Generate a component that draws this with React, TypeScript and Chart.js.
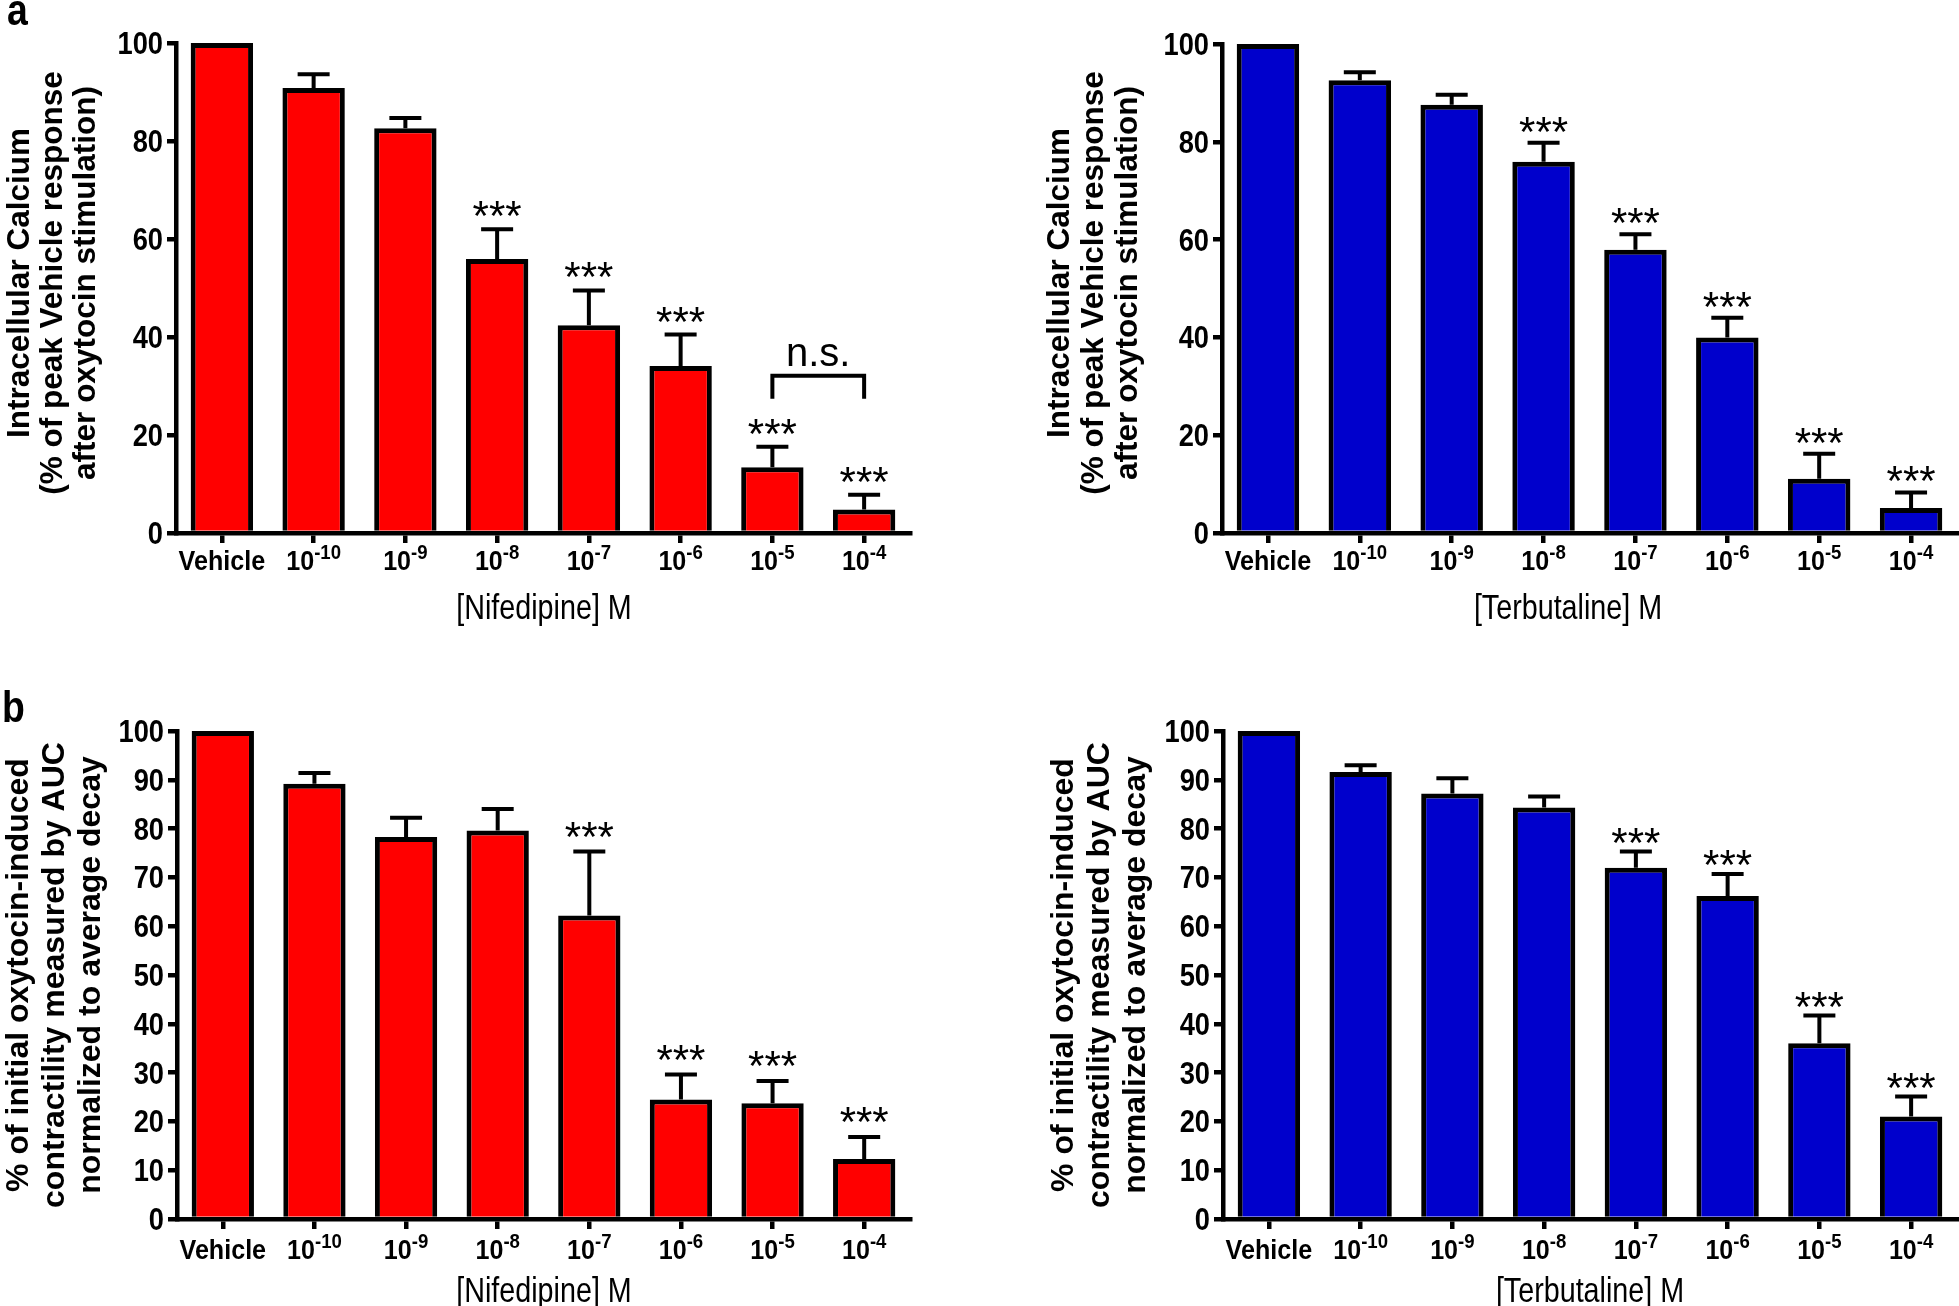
import React, { useEffect, useRef } from 'react';
import { Chart, registerables } from 'chart.js';

Chart.register(...registerables);

const FONT = "'Liberation Sans', Arial, Helvetica, sans-serif";

// ---------- data ----------
const categories = ['Vehicle', '10^-10', '10^-9', '10^-8', '10^-7', '10^-6', '10^-5', '10^-4'];

const nifedipineCalcium = [100, 90.8, 82.6, 55.9, 42.4, 34.1, 13.4, 4.8];
const nifedipineCalciumSem = [0, 2.8, 2.1, 6.1, 7.1, 6.4, 4.2, 3.0];
const nifedipineCalciumSig = ['', '', '', '***', '***', '***', '***', '***'];

const terbutalineCalcium = [100, 92.6, 87.6, 75.9, 57.9, 40.0, 11.1, 5.1];
const terbutalineCalciumSem = [0, 1.6, 2.0, 3.9, 3.2, 4.0, 5.1, 3.2];
const terbutalineCalciumSig = ['', '', '', '***', '***', '***', '***', '***'];

const nifedipineContractility = [100, 89.2, 78.3, 79.6, 62.2, 24.5, 23.7, 12.3];
const nifedipineContractilitySem = [0, 2.2, 3.9, 4.4, 13.1, 5.1, 4.6, 4.5];
const nifedipineContractilitySig = ['', '', '', '', '***', '***', '***', '***'];

const terbutalineContractility = [100, 91.6, 87.2, 84.3, 72.0, 66.2, 36.0, 21.0];
const terbutalineContractilitySem = [0, 1.4, 3.1, 2.3, 3.3, 4.5, 5.7, 4.1];
const terbutalineContractilitySig = ['', '', '', '', '***', '***', '***', '***'];

const calciumTicks = [0, 20, 40, 60, 80, 100];
const contractilityTicks = [0, 10, 20, 30, 40, 50, 60, 70, 80, 90, 100];

const calciumYTitle = ['Intracellular Calcium', '(% of peak Vehicle response', 'after oxytocin stimulation)'];
const contractilityYTitle = ['% of initial oxytocin-induced', 'contractility measured by AUC', 'normalized to average decay'];
const nifedipineXTitle = '[Nifedipine] M';
const terbutalineXTitle = '[Terbutaline] M';

// n.s. comparison between 10^-5 and 10^-4 (nifedipine, calcium)
const nsComparison = { from: 6, to: 7, level: 32.1, legEnd: 27.4, labelAt: 36.3, label: 'n.s.' };

// ---------- layout ----------
const RED = '#FF0000';
const BLUE = '#0000CC';

const panels = [
  {
    id: 'aL', values: nifedipineCalcium, sem: nifedipineCalciumSem, sig: nifedipineCalciumSig,
    color: RED, yTicks: calciumTicks, yTitle: calciumYTitle, xTitle: nifedipineXTitle, letter: 'a', bracket: nsComparison,
    L: { canvas: { x: 0, y: 0, w: 990, h: 665 }, area: { l: 176, t: 43, r: 910, b: 533 }, titleX: [18, 51, 84], titleY: 283,
      titleSize: 31.5, tickDy: 27, xTitleX: 544, xTitleDy: 73, starGap: 20, letterPos: { x: 7, y: 25 } },
  },
  {
    id: 'aR', values: terbutalineCalcium, sem: terbutalineCalciumSem, sig: terbutalineCalciumSig,
    color: BLUE, yTicks: calciumTicks, yTitle: calciumYTitle, xTitle: terbutalineXTitle, letter: '', bracket: null,
    L: { canvas: { x: 1000, y: 0, w: 959, h: 665 }, area: { l: 1222, t: 44, r: 1957, b: 533 }, titleX: [1058, 1092, 1126], titleY: 283,
      titleSize: 31.5, tickDy: 27, xTitleX: 1568, xTitleDy: 73, starGap: 18, letterPos: { x: 0, y: 0 } },
  },
  {
    id: 'bL', values: nifedipineContractility, sem: nifedipineContractilitySem, sig: nifedipineContractilitySig,
    color: RED, yTicks: contractilityTicks, yTitle: contractilityYTitle, xTitle: nifedipineXTitle, letter: 'b', bracket: null,
    L: { canvas: { x: 0, y: 668, w: 990, h: 638 }, area: { l: 177, t: 731, r: 910, b: 1219 }, titleX: [17, 53, 89], titleY: 975,
      titleSize: 32, tickDy: 30, xTitleX: 544, xTitleDy: 70, starGap: 22, letterPos: { x: 2, y: 722 } },
  },
  {
    id: 'bR', values: terbutalineContractility, sem: terbutalineContractilitySem, sig: terbutalineContractilitySig,
    color: BLUE, yTicks: contractilityTicks, yTitle: contractilityYTitle, xTitle: terbutalineXTitle, letter: '', bracket: null,
    L: { canvas: { x: 1000, y: 668, w: 959, h: 638 }, area: { l: 1223, t: 731, r: 1957, b: 1219 }, titleX: [1062, 1098, 1134], titleY: 975,
      titleSize: 32, tickDy: 30, xTitleX: 1590, xTitleDy: 70, starGap: 16, letterPos: { x: 0, y: 0 } },
  },
];

const X_AXIS_H = 40;

function fillScaled(ctx: CanvasRenderingContext2D, text: string, x: number, y: number, sx: number, align: CanvasTextAlign) {
  ctx.save();
  ctx.translate(x, y);
  ctx.scale(sx, 1);
  ctx.textAlign = align;
  ctx.textBaseline = 'alphabetic';
  ctx.fillText(text, 0, 0);
  ctx.restore();
}

function drawBoxCentered(ctx: CanvasRenderingContext2D, text: string, x: number, cy: number, font: string) {
  ctx.font = font;
  const m = ctx.measureText(text);
  const asc = m.actualBoundingBoxAscent;
  const desc = m.actualBoundingBoxDescent;
  ctx.textAlign = 'center';
  ctx.textBaseline = 'alphabetic';
  ctx.fillText(text, x, cy + (asc - desc) / 2);
}

function makePlugin(spec: any) {
  return {
    id: 'annot_' + spec.id,
    afterDraw(chart: any) {
      const ctx: CanvasRenderingContext2D = chart.ctx;
      const xs = chart.scales.x;
      const ys = chart.scales.y;
      const L = spec.L;
      const c = L.canvas;
      const a = chart.chartArea;
      ctx.save();
      ctx.strokeStyle = '#000';
      ctx.fillStyle = '#000';
      ctx.lineWidth = 4;
      ctx.lineCap = 'butt';

      // error bars + significance
      spec.values.forEach((v: number, i: number) => {
        const e = spec.sem[i];
        const x = xs.getPixelForValue(i);
        const y1 = ys.getPixelForValue(v + e);
        if (e > 0) {
          const y0 = ys.getPixelForValue(v);
          ctx.beginPath();
          ctx.moveTo(x, y0);
          ctx.lineTo(x, y1);
          ctx.moveTo(x - 16, y1);
          ctx.lineTo(x + 16, y1);
          ctx.stroke();
        }
        if (spec.sig[i]) {
          drawBoxCentered(ctx, spec.sig[i], x, y1 - L.starGap, `42px ${FONT}`);
        }
      });

      // bracket
      if (spec.bracket) {
        const b = spec.bracket;
        const x1 = xs.getPixelForValue(b.from);
        const x2 = xs.getPixelForValue(b.to);
        const yl = ys.getPixelForValue(b.level);
        const ye = ys.getPixelForValue(b.legEnd);
        ctx.beginPath();
        ctx.moveTo(x1, ye);
        ctx.lineTo(x1, yl);
        ctx.lineTo(x2, yl);
        ctx.lineTo(x2, ye);
        ctx.stroke();
        drawBoxCentered(ctx, b.label, (x1 + x2) / 2, ys.getPixelForValue(b.labelAt), `40px ${FONT}`);
      }

      // y tick labels (condensed bold)
      const ySize = 31;
      const ySx = 0.88;
      ctx.font = `bold ${ySize}px ${FONT}`;
      spec.yTicks.forEach((t: number) => {
        const y = ys.getPixelForValue(t);
        fillScaled(ctx, String(t), a.left - 13, y + ySize * 0.716 / 2, ySx, 'right');
      });

      // x tick labels with superscripts
      const baseSize = 27;
      const supSize = 20;
      const xSx = 0.93;
      const cy = a.bottom + L.tickDy;
      const baseY = cy + baseSize * 0.716 / 2;
      categories.forEach((lab, i) => {
        const x = xs.getPixelForValue(i);
        if (lab.includes('^')) {
          const [base, exp] = lab.split('^');
          ctx.font = `bold ${baseSize}px ${FONT}`;
          const w1 = ctx.measureText(base).width * xSx;
          ctx.font = `bold ${supSize}px ${FONT}`;
          const w2 = ctx.measureText(exp).width * xSx;
          const start = x - (w1 + w2) / 2;
          ctx.font = `bold ${baseSize}px ${FONT}`;
          fillScaled(ctx, base, start, baseY, xSx, 'left');
          ctx.font = `bold ${supSize}px ${FONT}`;
          fillScaled(ctx, exp, start + w1, baseY - 11, xSx, 'left');
        } else {
          ctx.font = `bold ${baseSize}px ${FONT}`;
          fillScaled(ctx, lab, x, baseY, xSx, 'center');
        }
      });

      // x title (condensed regular)
      const xtSize = 35;
      ctx.font = `${xtSize}px ${FONT}`;
      fillScaled(ctx, spec.xTitle, L.xTitleX - c.x, a.bottom + L.xTitleDy + xtSize * 0.716 / 2, 0.82, 'center');

      // y title (rotated)
      ctx.font = `bold ${L.titleSize}px ${FONT}`;
      spec.yTitle.forEach((line: string, i: number) => {
        ctx.save();
        ctx.translate(L.titleX[i] - c.x, L.titleY - c.y);
        ctx.rotate(-Math.PI / 2);
        ctx.textAlign = 'center';
        ctx.textBaseline = 'alphabetic';
        ctx.fillText(line, 0, L.titleSize * 0.716 / 2);
        ctx.restore();
      });

      // panel letter
      if (spec.letter) {
        ctx.font = `bold 44px ${FONT}`;
        fillScaled(ctx, spec.letter, L.letterPos.x - c.x, L.letterPos.y - c.y, 0.85, 'left');
      }
      ctx.restore();
    },
  };
}

function Panel({ spec }: { spec: any }) {
  const ref = useRef<HTMLCanvasElement | null>(null);
  const L = spec.L;
  const c = L.canvas;
  const a = L.area;
  useEffect(() => {
    if (!ref.current) return;
    const ticks: number[] = spec.yTicks;
    const chart = new Chart(ref.current, {
      type: 'bar',
      data: {
        labels: categories,
        datasets: [
          {
            data: spec.values,
            backgroundColor: spec.color,
            borderColor: '#000',
            borderWidth: 5,
            borderSkipped: 'start',
            barPercentage: 0.68,
            categoryPercentage: 1,
          },
        ],
      },
      options: {
        responsive: false,
        animation: false,
        devicePixelRatio: 1,
        layout: {
          padding: { left: 0, top: a.t - c.y, right: c.x + c.w - a.r, bottom: c.y + c.h - a.b - X_AXIS_H },
        },
        plugins: { legend: { display: false }, tooltip: { enabled: false }, title: { display: false } },
        scales: {
          x: {
            type: 'category',
            offset: true,
            grid: { offset: false, drawOnChartArea: false, drawTicks: true, tickLength: 10, lineWidth: 4.5, color: '#000' },
            border: { display: true, color: '#000', width: 4.5 },
            ticks: { display: false },
            afterFit: (s: any) => { s.height = X_AXIS_H; },
          },
          y: {
            min: ticks[0],
            max: ticks[ticks.length - 1],
            ticks: { display: false, stepSize: ticks[1] - ticks[0] },
            grid: { drawOnChartArea: false, drawTicks: true, tickLength: 9, lineWidth: 4.5, color: '#000' },
            border: { display: true, color: '#000', width: 4.5 },
            afterFit: (s: any) => { s.width = a.l - c.x; },
          },
        },
      } as any,
      plugins: [makePlugin(spec)],
    });
    return () => chart.destroy();
  }, []);
  return (
    <canvas
      ref={ref}
      width={c.w}
      height={c.h}
      style={{ position: 'absolute', left: c.x, top: c.y, width: c.w, height: c.h }}
    />
  );
}

export default function App() {
  return (
    <div style={{ position: 'absolute', left: 0, top: 0, width: 1959, height: 1306, background: '#fff', overflow: 'hidden' }}>
      {panels.map((p) => (
        <Panel key={p.id} spec={p} />
      ))}
    </div>
  );
}
